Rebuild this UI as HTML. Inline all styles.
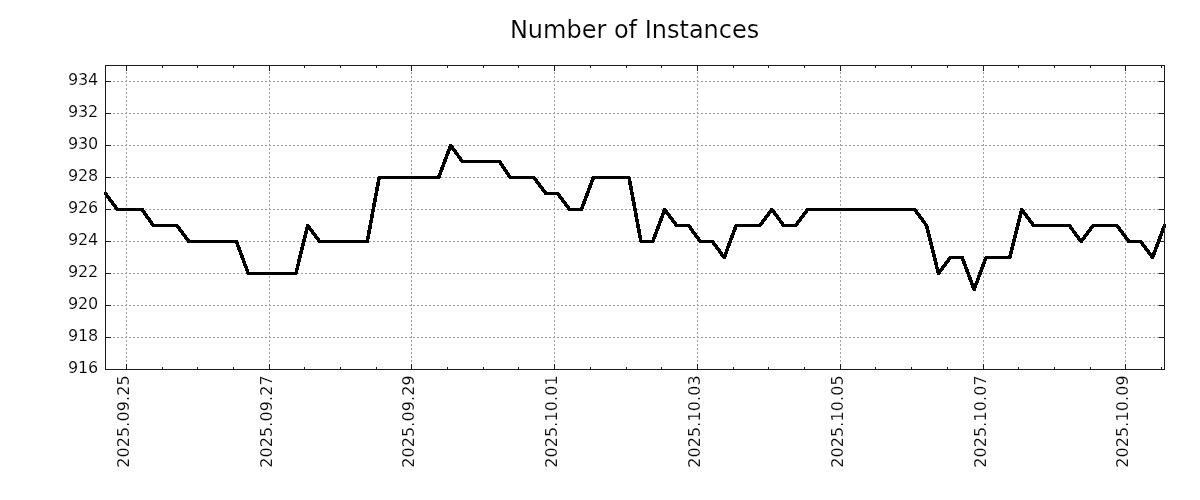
<!DOCTYPE html>
<html lang="en"><head><meta charset="utf-8"><title>Number of Instances</title>
<style>html,body{margin:0;padding:0;background:#fff;}body{width:1200px;height:500px;overflow:hidden;}svg{display:block;}text{font-family:"DejaVu Sans","Liberation Sans",sans-serif;fill:#000;stroke:#fff;stroke-width:0.14px;}.t{font-size:16px;}.h{font-size:24px;}.g{stroke:#9e9e9e;stroke-width:1;stroke-dasharray:2 2;shape-rendering:crispEdges;fill:none;}.k{stroke:#1c1c1c;stroke-width:1;shape-rendering:crispEdges;fill:none;}.d{stroke:#000;stroke-width:3.6;fill:none;stroke-linejoin:round;stroke-linecap:butt;shape-rendering:crispEdges;}</style></head><body>
<svg width="1200" height="500" viewBox="0 0 1200 500">
<rect width="1200" height="500" fill="#fff"/>
<g class="g">
<line x1="126.5" y1="370" x2="126.5" y2="66"/>
<line x1="269.5" y1="370" x2="269.5" y2="66"/>
<line x1="411.5" y1="370" x2="411.5" y2="66"/>
<line x1="554.5" y1="370" x2="554.5" y2="66"/>
<line x1="697.5" y1="370" x2="697.5" y2="66"/>
<line x1="840.5" y1="370" x2="840.5" y2="66"/>
<line x1="983.5" y1="370" x2="983.5" y2="66"/>
<line x1="1125.5" y1="370" x2="1125.5" y2="66"/>
<line x1="105" y1="337.5" x2="1165" y2="337.5"/>
<line x1="105" y1="305.5" x2="1165" y2="305.5"/>
<line x1="105" y1="273.5" x2="1165" y2="273.5"/>
<line x1="105" y1="241.5" x2="1165" y2="241.5"/>
<line x1="105" y1="209.5" x2="1165" y2="209.5"/>
<line x1="105" y1="177.5" x2="1165" y2="177.5"/>
<line x1="105" y1="145.5" x2="1165" y2="145.5"/>
<line x1="105" y1="113.5" x2="1165" y2="113.5"/>
<line x1="105" y1="81.5" x2="1165" y2="81.5"/>
</g>
<polyline class="d" points="104,193.5 105.52,193.5 117.42,209.5 129.32,209.5 142.22,209.5 153.11,225.5 165.01,225.5 176.91,225.5 188.81,241.5 200.71,241.5 212.61,241.5 224.50,241.5 236.40,241.5 248.30,273.5 260.20,273.5 272.10,273.5 284.00,273.5 295.89,273.5 307.79,225.5 319.69,241.5 331.59,241.5 343.49,241.5 355.38,241.5 367.28,241.5 379.18,177.5 391.08,177.5 402.98,177.5 414.88,177.5 426.77,177.5 438.67,177.5 450.57,145.5 462.47,161.5 474.37,161.5 486.27,161.5 499.36,161.5 510.06,177.5 521.96,177.5 533.86,177.5 545.76,193.5 557.66,193.5 569.56,209.5 581.45,209.5 593.35,177.5 605.25,177.5 617.15,177.5 629.05,177.5 640.94,241.5 652.84,241.5 664.74,209.5 676.64,225.5 688.54,225.5 700.44,241.5 712.34,241.5 724.23,257.5 736.13,225.5 748.03,225.5 759.93,225.5 771.83,209.5 783.73,225.5 795.62,225.5 807.52,209.5 819.42,209.5 831.32,209.5 843.22,209.5 855.12,209.5 867.01,209.5 878.91,209.5 890.81,209.5 902.71,209.5 914.61,209.5 926.50,225.5 938.40,273.5 950.30,257.5 962.20,257.5 974.10,289.5 986.00,257.5 997.89,257.5 1009.79,257.5 1021.69,209.5 1033.59,225.5 1045.49,225.5 1057.39,225.5 1069.29,225.5 1081.18,241.5 1093.08,225.5 1104.98,225.5 1116.88,225.5 1128.78,241.5 1140.67,241.5 1152.57,257.5 1164.47,225.5 1166,225.5"/>
<rect class="k" x="105.5" y="65.5" width="1059.0" height="304.0"/>
<g class="k">
<line x1="126.5" y1="369.5" x2="126.5" y2="364.0"/>
<line x1="126.5" y1="65.5" x2="126.5" y2="71.0"/>
<line x1="269.5" y1="369.5" x2="269.5" y2="364.0"/>
<line x1="269.5" y1="65.5" x2="269.5" y2="71.0"/>
<line x1="411.5" y1="369.5" x2="411.5" y2="364.0"/>
<line x1="411.5" y1="65.5" x2="411.5" y2="71.0"/>
<line x1="554.5" y1="369.5" x2="554.5" y2="364.0"/>
<line x1="554.5" y1="65.5" x2="554.5" y2="71.0"/>
<line x1="697.5" y1="369.5" x2="697.5" y2="364.0"/>
<line x1="697.5" y1="65.5" x2="697.5" y2="71.0"/>
<line x1="840.5" y1="369.5" x2="840.5" y2="364.0"/>
<line x1="840.5" y1="65.5" x2="840.5" y2="71.0"/>
<line x1="983.5" y1="369.5" x2="983.5" y2="364.0"/>
<line x1="983.5" y1="65.5" x2="983.5" y2="71.0"/>
<line x1="1125.5" y1="369.5" x2="1125.5" y2="364.0"/>
<line x1="1125.5" y1="65.5" x2="1125.5" y2="71.0"/>
<line x1="162.5" y1="369.5" x2="162.5" y2="367.0"/>
<line x1="162.5" y1="65.5" x2="162.5" y2="68.0"/>
<line x1="197.5" y1="369.5" x2="197.5" y2="367.0"/>
<line x1="197.5" y1="65.5" x2="197.5" y2="68.0"/>
<line x1="233.5" y1="369.5" x2="233.5" y2="367.0"/>
<line x1="233.5" y1="65.5" x2="233.5" y2="68.0"/>
<line x1="304.5" y1="369.5" x2="304.5" y2="367.0"/>
<line x1="304.5" y1="65.5" x2="304.5" y2="68.0"/>
<line x1="340.5" y1="369.5" x2="340.5" y2="367.0"/>
<line x1="340.5" y1="65.5" x2="340.5" y2="68.0"/>
<line x1="376.5" y1="369.5" x2="376.5" y2="367.0"/>
<line x1="376.5" y1="65.5" x2="376.5" y2="68.0"/>
<line x1="447.5" y1="369.5" x2="447.5" y2="367.0"/>
<line x1="447.5" y1="65.5" x2="447.5" y2="68.0"/>
<line x1="483.5" y1="369.5" x2="483.5" y2="367.0"/>
<line x1="483.5" y1="65.5" x2="483.5" y2="68.0"/>
<line x1="518.5" y1="369.5" x2="518.5" y2="367.0"/>
<line x1="518.5" y1="65.5" x2="518.5" y2="68.0"/>
<line x1="590.5" y1="369.5" x2="590.5" y2="367.0"/>
<line x1="590.5" y1="65.5" x2="590.5" y2="68.0"/>
<line x1="626.5" y1="369.5" x2="626.5" y2="367.0"/>
<line x1="626.5" y1="65.5" x2="626.5" y2="68.0"/>
<line x1="661.5" y1="369.5" x2="661.5" y2="367.0"/>
<line x1="661.5" y1="65.5" x2="661.5" y2="68.0"/>
<line x1="733.5" y1="369.5" x2="733.5" y2="367.0"/>
<line x1="733.5" y1="65.5" x2="733.5" y2="68.0"/>
<line x1="768.5" y1="369.5" x2="768.5" y2="367.0"/>
<line x1="768.5" y1="65.5" x2="768.5" y2="68.0"/>
<line x1="804.5" y1="369.5" x2="804.5" y2="367.0"/>
<line x1="804.5" y1="65.5" x2="804.5" y2="68.0"/>
<line x1="875.5" y1="369.5" x2="875.5" y2="367.0"/>
<line x1="875.5" y1="65.5" x2="875.5" y2="68.0"/>
<line x1="911.5" y1="369.5" x2="911.5" y2="367.0"/>
<line x1="911.5" y1="65.5" x2="911.5" y2="68.0"/>
<line x1="947.5" y1="369.5" x2="947.5" y2="367.0"/>
<line x1="947.5" y1="65.5" x2="947.5" y2="68.0"/>
<line x1="1018.5" y1="369.5" x2="1018.5" y2="367.0"/>
<line x1="1018.5" y1="65.5" x2="1018.5" y2="68.0"/>
<line x1="1054.5" y1="369.5" x2="1054.5" y2="367.0"/>
<line x1="1054.5" y1="65.5" x2="1054.5" y2="68.0"/>
<line x1="1090.5" y1="369.5" x2="1090.5" y2="367.0"/>
<line x1="1090.5" y1="65.5" x2="1090.5" y2="68.0"/>
<line x1="1161.5" y1="369.5" x2="1161.5" y2="367.0"/>
<line x1="1161.5" y1="65.5" x2="1161.5" y2="68.0"/>
<line x1="105.5" y1="369.5" x2="111.0" y2="369.5"/>
<line x1="1164.5" y1="369.5" x2="1159.0" y2="369.5"/>
<line x1="105.5" y1="337.5" x2="111.0" y2="337.5"/>
<line x1="1164.5" y1="337.5" x2="1159.0" y2="337.5"/>
<line x1="105.5" y1="305.5" x2="111.0" y2="305.5"/>
<line x1="1164.5" y1="305.5" x2="1159.0" y2="305.5"/>
<line x1="105.5" y1="273.5" x2="111.0" y2="273.5"/>
<line x1="1164.5" y1="273.5" x2="1159.0" y2="273.5"/>
<line x1="105.5" y1="241.5" x2="111.0" y2="241.5"/>
<line x1="1164.5" y1="241.5" x2="1159.0" y2="241.5"/>
<line x1="105.5" y1="209.5" x2="111.0" y2="209.5"/>
<line x1="1164.5" y1="209.5" x2="1159.0" y2="209.5"/>
<line x1="105.5" y1="177.5" x2="111.0" y2="177.5"/>
<line x1="1164.5" y1="177.5" x2="1159.0" y2="177.5"/>
<line x1="105.5" y1="145.5" x2="111.0" y2="145.5"/>
<line x1="1164.5" y1="145.5" x2="1159.0" y2="145.5"/>
<line x1="105.5" y1="113.5" x2="111.0" y2="113.5"/>
<line x1="1164.5" y1="113.5" x2="1159.0" y2="113.5"/>
<line x1="105.5" y1="81.5" x2="111.0" y2="81.5"/>
<line x1="1164.5" y1="81.5" x2="1159.0" y2="81.5"/>
</g>
<g class="t" text-anchor="end" style="letter-spacing:-0.2px">
<text x="97.9" y="373.3">916</text>
<text x="97.9" y="341.3">918</text>
<text x="97.9" y="309.3">920</text>
<text x="97.9" y="277.3">922</text>
<text x="97.9" y="245.3">924</text>
<text x="97.9" y="213.3">926</text>
<text x="97.9" y="181.3">928</text>
<text x="97.9" y="149.3">930</text>
<text x="97.9" y="117.3">932</text>
<text x="97.9" y="85.3">934</text>
</g>
<g class="t" text-anchor="end" style="letter-spacing:0.09px">
<text transform="translate(129.3,375.3) rotate(-90)">2025.09.25</text>
<text transform="translate(272.3,375.3) rotate(-90)">2025.09.27</text>
<text transform="translate(414.3,375.3) rotate(-90)">2025.09.29</text>
<text transform="translate(557.3,375.3) rotate(-90)">2025.10.01</text>
<text transform="translate(700.3,375.3) rotate(-90)">2025.10.03</text>
<text transform="translate(843.3,375.3) rotate(-90)">2025.10.05</text>
<text transform="translate(986.3,375.3) rotate(-90)">2025.10.07</text>
<text transform="translate(1128.3,375.3) rotate(-90)">2025.10.09</text>
</g>
<text class="h" text-anchor="middle" x="634.6" y="38">Number of Instances</text>
</svg></body></html>
